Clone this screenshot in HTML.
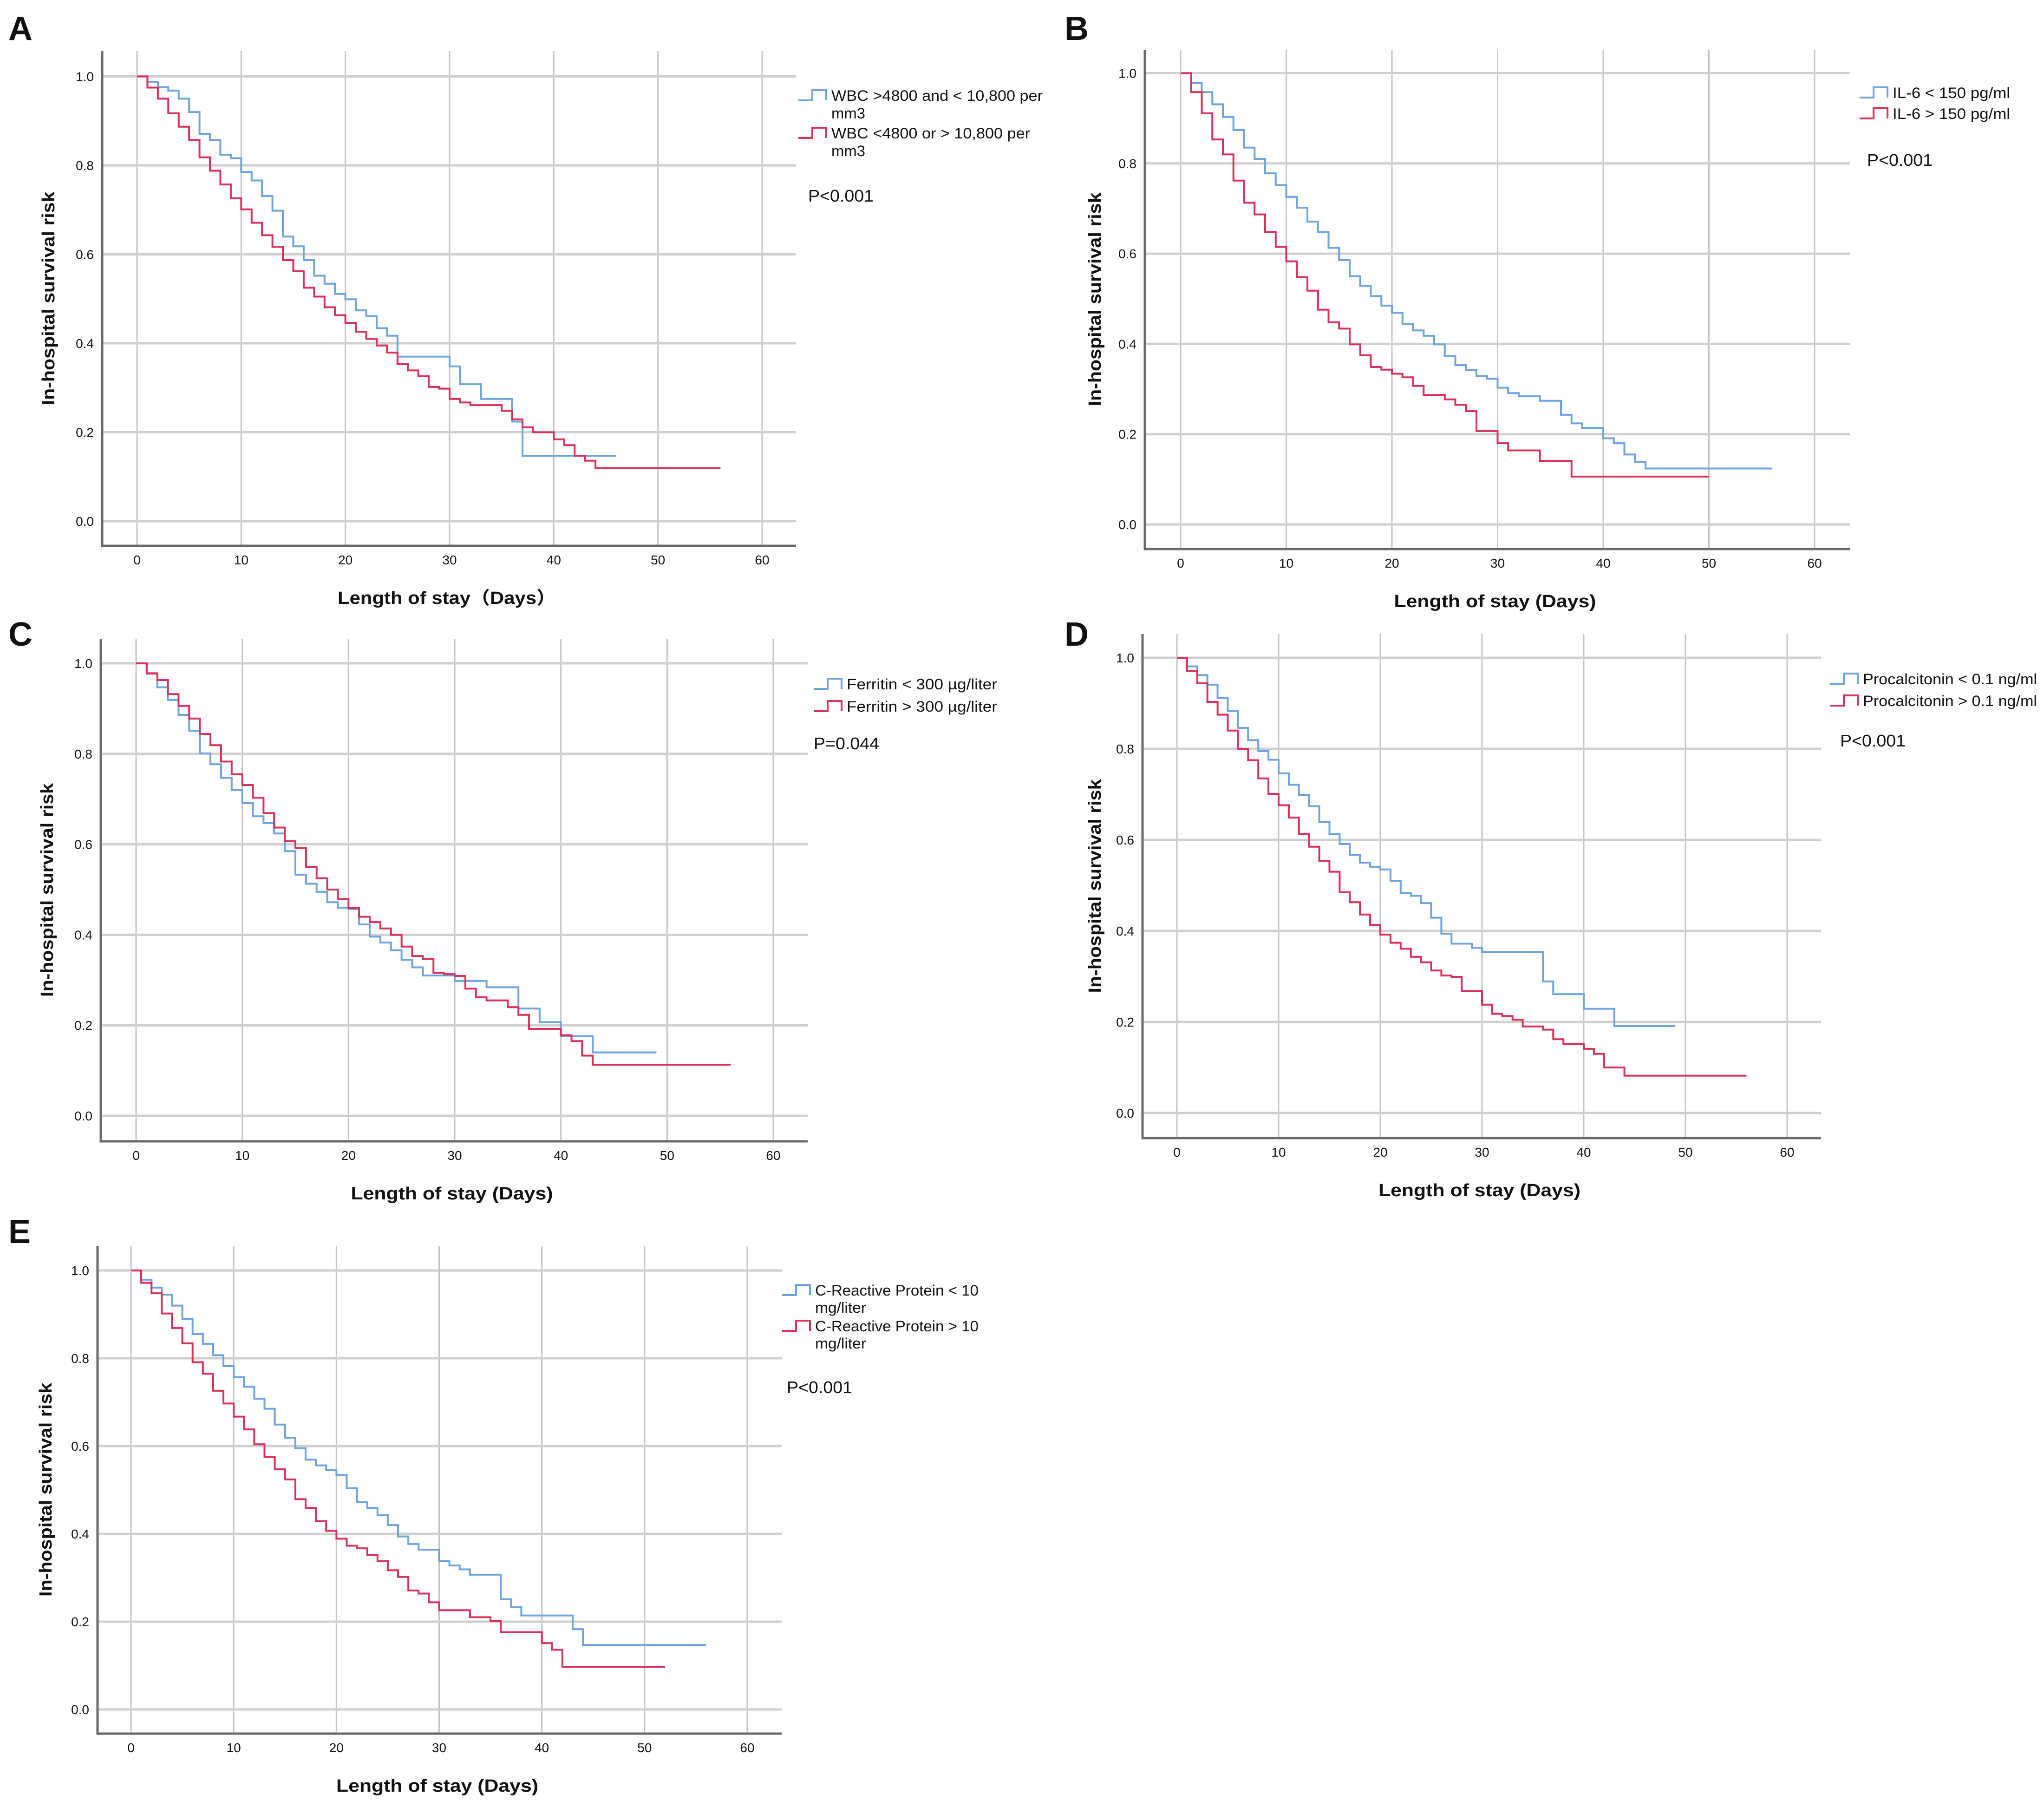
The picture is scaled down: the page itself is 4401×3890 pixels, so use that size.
<!DOCTYPE html>
<html><head><meta charset="utf-8"><style>
html,body{margin:0;padding:0;background:#fff;}
svg{display:block;}
text{font-family:"Liberation Sans","Noto Sans CJK SC",sans-serif;fill:#111;}
</style></head><body>
<svg id="fig" width="4401" height="3890" viewBox="0 0 4401 3890" xmlns="http://www.w3.org/2000/svg">
<rect width="4401" height="3890" fill="#fff"/>
</svg>
<script>
// ---- data (survival step values: value after the drop at that day) ----
const xTicks=[0,10,20,30,40,50,60];
const yTicks=[0.0,0.2,0.4,0.6,0.8,1.0];
const yTickLabels=["0.0","0.2","0.4","0.6","0.8","1.0"];

const aBlueDays=[0,1,2,3,4,5,6,7,8,9,10,11,12,13,14,15,16,17,18,19,20,21,22,23,24,25,30,31,33,36,37];
const aBlueSurv=[1,.988,.976,.968,.95,.92,.871,.857,.824,.816,.785,.766,.731,.698,.64,.618,.587,.552,.534,.511,.499,.474,.461,.434,.417,.37,.348,.308,.275,.224,.147];
const aBlueEnd=46;
const aRedDays=[0,1,2,3,4,5,6,7,8,9,10,11,12,13,14,15,16,17,18,19,20,21,22,23,24,25,26,27,28,29,30,31,32,35,36,37,38,40,41,42,43,44];
const aRedSurv=[1,.975,.95,.917,.887,.857,.818,.788,.757,.726,.701,.671,.643,.617,.587,.562,.525,.505,.481,.463,.446,.426,.41,.395,.379,.353,.339,.326,.302,.298,.275,.267,.261,.248,.229,.211,.2,.184,.171,.147,.136,.119];
const aRedEnd=56;

const bBlueDays=[0,1,2,3,4,5,6,7,8,9,10,11,12,13,14,15,16,17,18,19,20,21,22,23,24,25,26,27,28,29,30,31,32,34,36,37,38,40,41,42,43,44];
const bBlueSurv=[1,.978,.958,.931,.903,.874,.835,.81,.778,.752,.726,.702,.671,.648,.613,.586,.55,.529,.506,.485,.469,.444,.43,.418,.399,.373,.353,.342,.329,.323,.303,.291,.284,.274,.243,.224,.214,.191,.18,.155,.139,.124];
const bBlueEnd=56;
const bRedDays=[0,1,2,3,4,5,6,7,8,9,10,11,12,13,14,15,16,17,18,19,20,21,22,23,25,26,27,28,30,31,34,37];
const bRedSurv=[1,.958,.911,.853,.82,.762,.713,.687,.648,.615,.583,.548,.518,.476,.448,.434,.399,.375,.349,.343,.334,.326,.307,.287,.277,.265,.251,.207,.18,.164,.141,.106];
const bRedEnd=50;

const cBlueDays=[0,1,2,3,4,5,6,7,8,9,10,11,12,13,14,15,16,17,18,19,20,21,22,23,24,25,26,27,30,33,36,38,40,43];
const cBlueSurv=[1,.977,.947,.919,.886,.851,.801,.777,.747,.72,.691,.662,.647,.624,.585,.533,.513,.495,.472,.46,.457,.423,.396,.383,.366,.345,.328,.31,.298,.284,.237,.207,.176,.14];
const cBlueEnd=49;
const cRedDays=[0,1,2,3,4,5,6,7,8,9,10,11,12,13,14,15,16,17,18,19,20,21,22,23,24,25,26,27,28,29,30,31,32,33,35,36,37,40,41,42,43];
const cRedSurv=[1,.978,.963,.932,.906,.878,.844,.819,.783,.755,.731,.703,.669,.637,.607,.592,.55,.525,.5,.479,.459,.44,.428,.414,.4,.374,.353,.347,.316,.313,.309,.281,.262,.255,.24,.223,.192,.178,.165,.133,.113];
const cRedEnd=56;

const dBlueDays=[0,1,2,3,4,5,6,7,8,9,10,11,12,13,14,15,16,17,18,19,20,21,22,23,24,25,26,27,29,30,36,37,40,43];
const dBlueSurv=[1,.981,.962,.941,.912,.883,.846,.819,.795,.776,.746,.721,.699,.674,.639,.613,.591,.567,.55,.541,.535,.51,.483,.477,.461,.429,.394,.372,.363,.354,.289,.261,.229,.191];
const dBlueEnd=49;
const dRedDays=[0,1,2,3,4,5,6,7,8,9,10,11,12,13,14,15,16,17,18,19,20,21,22,23,24,25,26,27,28,30,31,32,33,34,36,37,38,40,41,42,44];
const dRedSurv=[1,.971,.944,.903,.875,.84,.8,.775,.735,.701,.676,.649,.613,.585,.554,.53,.485,.463,.436,.413,.392,.374,.361,.343,.331,.313,.302,.299,.268,.238,.218,.213,.205,.19,.183,.162,.152,.141,.13,.1,.082];
const dRedEnd=56;

const eBlueDays=[0,1,2,3,4,5,6,7,8,9,10,11,12,13,14,15,16,17,18,19,20,21,22,23,24,25,26,27,28,30,31,32,33,36,37,38,43,44];
const eBlueSurv=[1,.979,.961,.945,.92,.89,.855,.833,.807,.782,.757,.735,.708,.685,.649,.619,.595,.569,.556,.545,.534,.504,.472,.459,.443,.42,.394,.377,.364,.338,.328,.319,.307,.251,.233,.214,.183,.147];
const eBlueEnd=56;
const eRedDays=[0,1,2,3,4,5,6,7,8,9,10,11,12,13,14,15,16,17,18,19,20,21,22,23,24,25,26,27,28,29,30,33,35,36,40,41,42];
const eRedSurv=[1,.972,.948,.902,.869,.834,.791,.765,.726,.697,.667,.638,.604,.575,.547,.524,.479,.459,.429,.407,.389,.373,.367,.352,.338,.317,.302,.271,.264,.244,.226,.21,.201,.176,.151,.136,.097];
const eRedEnd=52;

// ---- layout ----
const NS="http://www.w3.org/2000/svg";
const svg=document.getElementById('fig');
function mk(tag,attrs,parent){const e=document.createElementNS(NS,tag);for(const k in attrs)e.setAttribute(k,attrs[k]);(parent||svg).appendChild(e);return e;}

const panels=[
 {id:'a',letter:'A',lx:18,ly:86,left:220,right:1714,top:110,bottom:1175,x0:295,x60:1641,y1:164.5,y0:1122,
  xlabel:'Length of stay（Days）',xlw:470,ylx:107,
  blue:[aBlueDays,aBlueSurv,aBlueEnd],red:[aRedDays,aRedSurv,aRedEnd],
  leg:{x:1719,tx:1790,rows:[[['WBC >4800 and < 10,800 per',455],['mm3',73]],[['WBC <4800 or > 10,800 per',428],['mm3',73]]],ry:[206,287],lh:38,px:1740,py:421,p:'P<0.001'}},
 {id:'b',letter:'B',lx:2292,ly:86,left:2465,right:3983,top:107,bottom:1182,x0:2542,x60:3907,y1:157.5,y0:1129,
  xlabel:'Length of stay (Days)',xlw:435,ylx:2360,
  blue:[bBlueDays,bBlueSurv,bBlueEnd],red:[bRedDays,bRedSurv,bRedEnd],
  leg:{x:4004,tx:4075,rows:[[['IL-6 < 150 pg/ml',253]],[['IL-6 > 150 pg/ml',253]]],ry:[200,245],lh:38,px:4020,py:344,p:'P<0.001'}},
 {id:'c',letter:'C',lx:18,ly:1390,left:217,right:1739,top:1375,bottom:2457,x0:293,x60:1665,y1:1428,y0:2402,
  xlabel:'Length of stay (Days)',xlw:435,ylx:104,
  blue:[cBlueDays,cBlueSurv,cBlueEnd],red:[cRedDays,cRedSurv,cRedEnd],
  leg:{x:1752,tx:1823,rows:[[['Ferritin < 300 µg/liter',324]],[['Ferritin > 300 µg/liter',324]]],ry:[1473,1521],lh:38,px:1752,py:1600,p:'P=0.044'}},
 {id:'d',letter:'D',lx:2292,ly:1390,left:2460,right:3921,top:1365,bottom:2450,x0:2534,x60:3848,y1:1416,y0:2396,
  xlabel:'Length of stay (Days)',xlw:435,ylx:2360,
  blue:[dBlueDays,dBlueSurv,dBlueEnd],red:[dRedDays,dRedSurv,dRedEnd],
  leg:{x:3940,tx:4011,rows:[[['Procalcitonin < 0.1 ng/ml',375]],[['Procalcitonin > 0.1 ng/ml',375]]],ry:[1462,1509],lh:38,px:3962,py:1594,p:'P<0.001'}},
 {id:'e',letter:'E',lx:18,ly:2676,left:210,right:1683,top:2682,bottom:3732,x0:282,x60:1609,y1:2735,y0:3680,
  xlabel:'Length of stay (Days)',xlw:435,ylx:101,
  blue:[eBlueDays,eBlueSurv,eBlueEnd],red:[eRedDays,eRedSurv,eRedEnd],
  leg:{x:1684,tx:1755,rows:[[['C-Reactive Protein < 10',352],['mg/liter',110]],[['C-Reactive Protein > 10',352],['mg/liter',110]]],ry:[2778,2855],lh:37,px:1694,py:2986,p:'P<0.001'}}
];

const BLUE='#6fa3dc', RED='#d8325a';

panels.forEach(P=>{
  const g=mk('g',{});
  
  
  const xs=d=>P.x0+(P.x60-P.x0)*d/60;
  const ys=v=>P.y0+(P.y1-P.y0)*v;
  const lt=mk('text',{x:P.lx,y:P.ly,'font-size':72,'font-weight':'bold'},g);lt.textContent=P.letter;
  
  
  // grid
  xTicks.forEach(t=>{
    const l=mk('line',{x1:xs(t),x2:xs(t),y1:P.top,y2:P.bottom,stroke:'#c4c4c4','stroke-width':3},g);
    
    
    const tx=mk('text',{x:xs(t),y:P.bottom+40,'font-size':28,'text-anchor':'middle','fill':'#222'},g);tx.textContent=t;
    
    
  });
  yTicks.forEach((t,i)=>{
    const l=mk('line',{x1:P.left,x2:P.right,y1:ys(t),y2:ys(t),stroke:'#cfcfcf','stroke-width':5},g);
    
    
    const tx=mk('text',{x:P.left-18,y:ys(t)+10,'font-size':28,'text-anchor':'end','fill':'#222'},g);tx.textContent=yTickLabels[i];
    
    
  });
  const ax=mk('path',{d:`M${P.left},${P.top}V${P.bottom}H${P.right}`,fill:'none',stroke:'#6a6a6a','stroke-width':5},g);
  
  
  // series
  [['blue',P.blue,BLUE],['red',P.red,RED]].forEach(([nm,s,col])=>{
    const [days,surv,end]=s;
    let d=`M${xs(days[0])},${ys(surv[0])}`;
    for(let i=1;i<days.length;i++){d+=`H${xs(days[i])}V${ys(surv[i])}`;}
    d+=`H${xs(end)}`;
    const p=mk('path',{d:d,fill:'none',stroke:col,'stroke-width':4},g);
    
    
  });
  // axis titles
  const xl=mk('text',{x:(P.left+P.right)/2-5,y:P.bottom+125,'font-size':38,'font-weight':'bold','text-anchor':'middle',textLength:P.xlw,lengthAdjust:'spacingAndGlyphs'},g);
  xl.textContent=P.xlabel;
  
  
  const cy=(P.top+P.bottom)/2;
  const yl=mk('text',{x:P.ylx,y:cy,'font-size':38,'font-weight':'bold','text-anchor':'middle',transform:`rotate(-90 ${P.ylx} ${cy})`,'dominant-baseline':'middle',textLength:460,lengthAdjust:'spacingAndGlyphs'},g);
  yl.textContent='In-hospital survival risk';
  
  
  // legend
  const L=P.leg;
  [BLUE,RED].forEach((col,i)=>{
    const y=L.ry[i];
    const ic=mk('path',{d:`M${L.x},${y+10}H${L.x+30}V${y-12}H${L.x+60}V${y+10}`,fill:'none',stroke:col,'stroke-width':4},g);
    
    
    L.rows[i].forEach((ln,j)=>{
      const t=mk('text',{x:L.tx,y:y+j*L.lh+11,'font-size':32,textLength:ln[1],lengthAdjust:'spacingAndGlyphs'},g);
      t.textContent=ln[0];
      
      
    });
  });
  const pt=mk('text',{x:L.px,y:L.py+13,'font-size':36,textLength:141,lengthAdjust:'spacingAndGlyphs'},g);
  pt.textContent=L.p;
  
  
});
</script>
</body></html>
